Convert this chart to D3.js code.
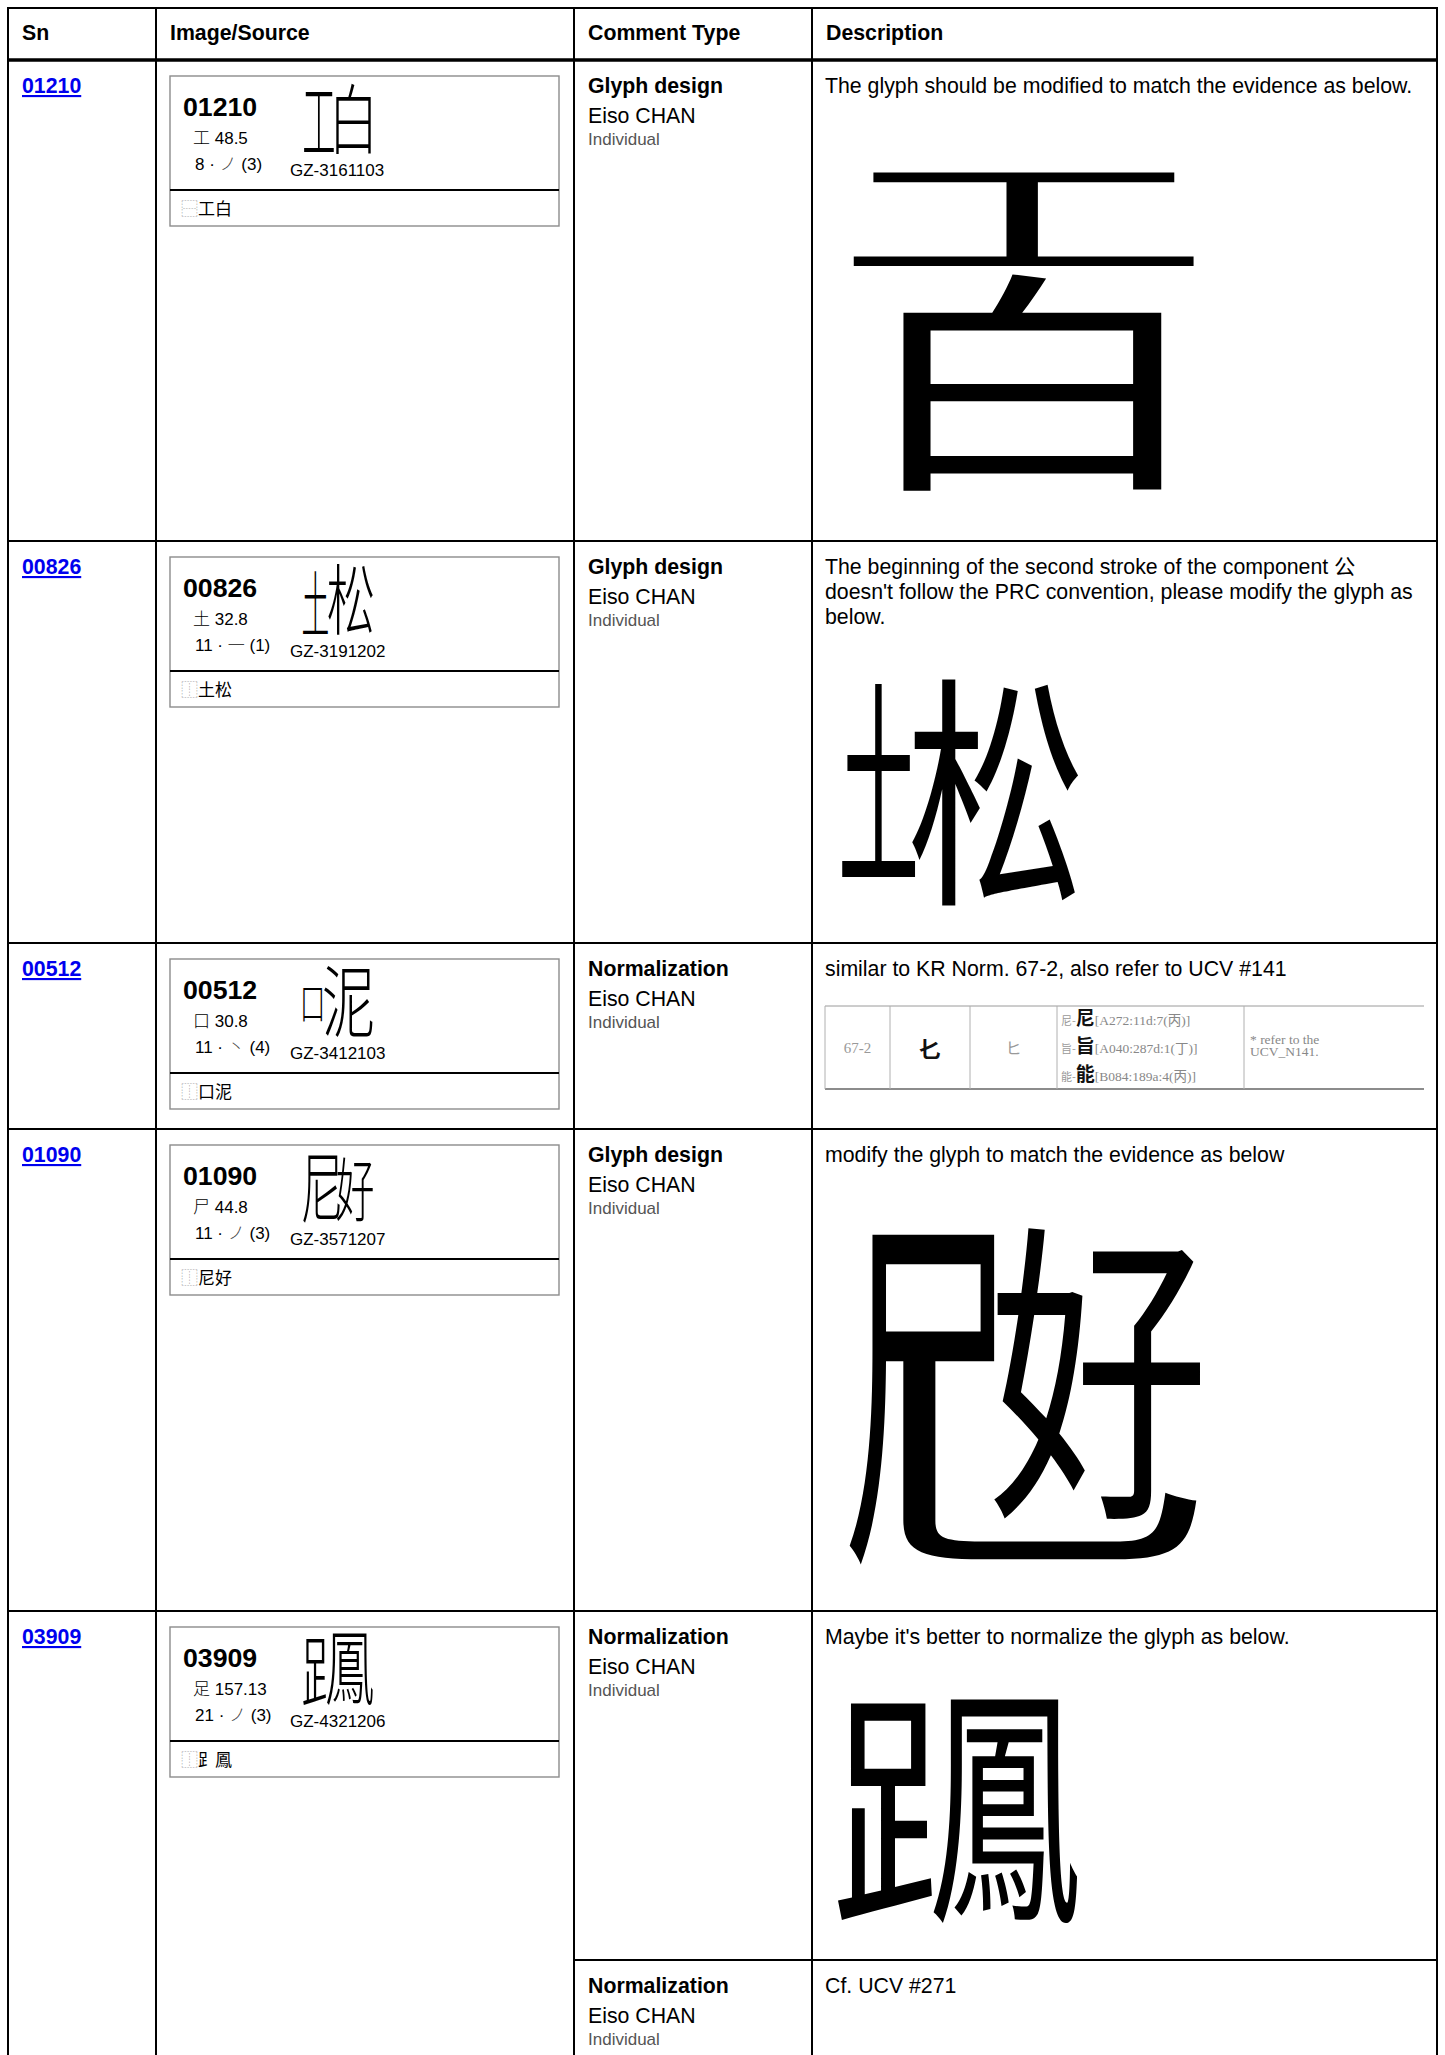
<!DOCTYPE html>
<html><head><meta charset="utf-8">
<script src="https://cdn.jsdelivr.net/npm/d3@7"></script>
<style>html,body{margin:0;padding:0;background:#fff;}svg{display:block;}</style>
</head><body>
<script>
// ---------- data ----------
const headers = ["Sn", "Image/Source", "Comment Type", "Description"];
const sns = ["01210", "00826", "00512", "01090", "03909"];
const radicals = ["工", "土", "口", "尸", "足"];
const radicalNums = ["48.5", "32.8", "30.8", "44.8", "157.13"];
const strokeCounts = ["8", "11", "11", "11", "21"];
const firstStrokes = ["ノ", "一", "丶", "ノ", "ノ"];
const firstStrokeNums = ["(3)", "(1)", "(4)", "(3)", "(3)"];
const sources = ["GZ-3161103", "GZ-3191202", "GZ-3412103", "GZ-3571207", "GZ-4321206"];
const idsOps = ["⿱", "⿰", "⿰", "⿰", "⿰"];
const idsParts = [["工", "白"], ["土", "松"], ["口", "泥"], ["尼", "好"], ["⻊", "鳳"]];

const commentRowOf = [0, 1, 2, 3, 4, 4];
const commentTypes = ["Glyph design", "Glyph design", "Normalization", "Glyph design", "Normalization", "Normalization"];
const commentAuthors = ["Eiso CHAN", "Eiso CHAN", "Eiso CHAN", "Eiso CHAN", "Eiso CHAN", "Eiso CHAN"];
const commentOrgs = ["Individual", "Individual", "Individual", "Individual", "Individual", "Individual"];
const descriptions = [
  ["The glyph should be modified to match the evidence as below."],
  ["The beginning of the second stroke of the component 公", "doesn't follow the PRC convention, please modify the glyph as", "below."],
  ["similar to KR Norm. 67-2, also refer to UCV #141"],
  ["modify the glyph to match the evidence as below"],
  ["Maybe it's better to normalize the glyph as below."],
  ["Cf. UCV #271"]
];
// evidence glyph components (drawn as real text)
const evidenceParts = [["工", "白"], ["土", "松"], [], ["尸", "乚", "好"], ["⻊", "鳳"], []];
// KR normalization excerpt (row 00512)
const krNo = "67-2";
const krForm = "𠤎";
const krComp = "ヒ";
const krPrefix = ["尼-", "旨-", "能-"];
const krChars = ["尼", "旨", "能"];
const krRefs = ["[A272:11d:7(丙)]", "[A040:287d:1(丁)]", "[B084:189a:4(丙)]"];
const krNote = ["* refer to the", "UCV_N141."];

// ---------- layout ----------
const W = 1445, H = 2055;
const LAT = '"Liberation Sans", Arial, "Noto Sans CJK SC", sans-serif';
const CJK = '"Noto Sans CJK SC", sans-serif';
const SER = '"Liberation Serif", "Noto Sans CJK SC", serif';
const tableL = 8, tableR = 1437, tableT = 8, headerB = 60;
const colX = d3.scaleOrdinal().domain(headers).range([8, 156, 574, 812]);
const rowTop = d3.scaleOrdinal().domain(d3.range(5)).range([60, 541, 943, 1129, 1611]);
const commentTop = d3.scaleOrdinal().domain(d3.range(6)).range([60, 541, 943, 1129, 1611, 1960]);
const boxL = 170, boxR = 559;

// small glyph component boxes: [x0, y0(row-rel), x1, y1(row-rel)]
const smallBoxes = [
  [[304, 32, 334, 92], [336, 23, 371, 94]],
  [[303, 30, 328, 92], [328, 23, 373, 94]],
  [[303, 46, 322, 79], [324, 23, 373, 94]],
  [[303, 26, 340, 94], [337, 28, 373, 93]],
  [[303, 28, 326, 94], [327, 23, 373, 94]]
];
// evidence component boxes (absolute)
const evBoxes = [
  [[853, 172, 1197, 267], [902, 273, 1162, 493]],
  [[842, 682, 915, 878], [912, 677, 1079, 908]],
  [],
  [[849, 1232, 995, 1569], [900, 1352, 1200, 1560], [993, 1225, 1200, 1522]],
  [[838, 1702, 933, 1922], [933, 1699, 1078, 1923]],
  []
];

const svg = d3.select("body").append("svg").attr("width", W).attr("height", H);
svg.append("rect").attr("width", W).attr("height", H).attr("fill", "#fff");

const cv = document.createElement("canvas").getContext("2d");
function fitGlyph(g, ch, box, fam, wt) {
  fam = fam || CJK; wt = wt || "normal";
  cv.font = `${wt} 100px ${fam}`;
  const m = cv.measureText(ch);
  const inkL = -m.actualBoundingBoxLeft, inkR = m.actualBoundingBoxRight;
  const inkT = m.actualBoundingBoxAscent, inkB = m.actualBoundingBoxDescent;
  const sx = (box[2] - box[0]) / Math.max(1, inkR - inkL);
  const sy = (box[3] - box[1]) / Math.max(1, inkT + inkB);
  g.append("text")
    .attr("transform", `translate(${box[0] - inkL * sx},${box[1] + inkT * sy}) scale(${sx},${sy})`)
    .attr("font-family", fam).attr("font-weight", wt).attr("font-size", 100)
    .attr("fill", "#000").text(ch);
}

// ---------- header ----------
const head = svg.append("g");
head.selectAll("text").data(headers).join("text")
  .attr("x", d => colX(d) + 14).attr("y", 40)
  .attr("font-family", LAT).attr("font-weight", "bold").attr("font-size", 21.3)
  .attr("fill", "#000").text(d => d);

// ---------- Sn + Image/Source ----------
const rows = svg.append("g").selectAll("g").data(sns).join("g")
  .attr("transform", (d, i) => `translate(0,${rowTop(i)})`);

rows.append("text").attr("x", colX("Sn") + 14).attr("y", 33)
  .attr("font-family", LAT).attr("font-weight", "bold").attr("font-size", 21.3)
  .attr("fill", "#0000ee").attr("text-decoration", "underline").text(d => d);

rows.append("rect").attr("x", boxL).attr("y", 16).attr("width", boxR - boxL).attr("height", 150)
  .attr("fill", "none").attr("stroke", "#8c8c8c").attr("stroke-width", 1.4);
rows.append("line").attr("x1", boxL).attr("x2", boxR).attr("y1", 130).attr("y2", 130)
  .attr("stroke", "#000").attr("stroke-width", 2);

rows.append("text").attr("x", 183).attr("y", 56)
  .attr("font-family", LAT).attr("font-weight", "bold").attr("font-size", 26.7).text(d => d);

const radT = rows.append("text").attr("x", 193).attr("y", 84)
  .attr("font-family", LAT).attr("font-size", 17);
radT.append("tspan").attr("font-family", CJK).attr("font-weight", 300).text((d, i) => radicals[i]);
radT.append("tspan").text((d, i) => " " + radicalNums[i]);

const stT = rows.append("text").attr("x", 195).attr("y", 110)
  .attr("font-family", LAT).attr("font-size", 17);
stT.append("tspan").text((d, i) => strokeCounts[i] + " · ");
stT.append("tspan").attr("font-family", CJK).attr("font-weight", 300).attr("fill", "#444").text((d, i) => firstStrokes[i]);
stT.append("tspan").text((d, i) => " " + firstStrokeNums[i]);

rows.append("text").attr("x", 290).attr("y", 116)
  .attr("font-family", LAT).attr("font-size", 17).text((d, i) => sources[i]);

const idsT = rows.append("text").attr("x", 181).attr("y", 155)
  .attr("font-family", CJK).attr("font-size", 17);
idsT.append("tspan").attr("fill", "#999").text((d, i) => idsOps[i]);
idsT.append("tspan").attr("fill", "#000").text((d, i) => idsParts[i].join(""));

rows.each(function (d, i) {
  const g = d3.select(this);
  idsParts[i].forEach((ch, k) => fitGlyph(g, ch, smallBoxes[i][k], CJK, 300));
});

// ---------- comments ----------
const cm = svg.append("g").selectAll("g").data(commentTypes).join("g")
  .attr("transform", (d, i) => `translate(0,${commentTop(i)})`);
cm.append("text").attr("x", colX("Comment Type") + 14).attr("y", 33)
  .attr("font-family", LAT).attr("font-weight", "bold").attr("font-size", 21.3).text(d => d);
cm.append("text").attr("x", colX("Comment Type") + 14).attr("y", 63)
  .attr("font-family", LAT).attr("font-size", 21.3).text((d, i) => commentAuthors[i]);
cm.append("text").attr("x", colX("Comment Type") + 14).attr("y", 85)
  .attr("font-family", LAT).attr("font-size", 17).attr("fill", "#555").text((d, i) => commentOrgs[i]);
cm.append("text").attr("x", colX("Description") + 13).attr("y", 33)
  .attr("font-family", LAT).attr("font-size", 21.3)
  .selectAll("tspan").data((d, i) => descriptions[i]).join("tspan")
  .attr("x", colX("Description") + 13).attr("dy", (d, j) => j ? 25 : 0).text(d => d);

// evidence glyphs
const ev = svg.append("g");
evidenceParts.forEach((parts, i) => parts.forEach((ch, k) => fitGlyph(ev, ch, evBoxes[i][k], CJK, "normal")));

// KR normalization excerpt
const kr = svg.append("g");
const krX = [825, 890, 970, 1057, 1244, 1424], krT = 1006, krB = 1089;
kr.append("line").attr("x1", krX[0]).attr("x2", krX[5]).attr("y1", krT).attr("y2", krT).attr("stroke", "#9a9a9a").attr("stroke-width", 1);
kr.append("line").attr("x1", krX[0]).attr("x2", krX[5]).attr("y1", krB).attr("y2", krB).attr("stroke", "#666").attr("stroke-width", 1.5);
kr.selectAll("line.v").data(krX.slice(0, 5)).join("line").attr("class", "v")
  .attr("x1", d => d).attr("x2", d => d).attr("y1", krT).attr("y2", krB).attr("stroke", "#b0b0b0").attr("stroke-width", 1);
const mid = (a, b) => (a + b) / 2;
kr.append("text").attr("x", mid(krX[0], krX[1])).attr("y", 1053).attr("text-anchor", "middle")
  .attr("font-family", SER).attr("font-size", 15).attr("fill", "#999").text(krNo);
kr.append("text").attr("x", mid(krX[1], krX[2])).attr("y", 1057).attr("text-anchor", "middle")
  .attr("font-family", CJK).attr("font-weight", "bold").attr("font-size", 22).attr("fill", "#111").text(krForm);
kr.append("text").attr("x", mid(krX[2], krX[3])).attr("y", 1054).attr("text-anchor", "middle")
  .attr("font-family", CJK).attr("font-size", 16).attr("fill", "#999").text(krComp);
const krL = kr.selectAll("text.l").data(krChars).join("text").attr("class", "l")
  .attr("x", krX[3] + 4).attr("y", (d, i) => 1025 + i * 28);
krL.append("tspan").attr("font-family", CJK).attr("font-size", 11).attr("fill", "#999").text((d, i) => krPrefix[i]);
krL.append("tspan").attr("font-family", CJK).attr("font-weight", "bold").attr("font-size", 19).attr("fill", "#111").text(d => d);
krL.append("tspan").attr("font-family", SER).attr("font-size", 13.5).attr("fill", "#888").text((d, i) => krRefs[i]);
kr.selectAll("text.n").data(krNote).join("text").attr("class", "n")
  .attr("x", krX[4] + 6).attr("y", (d, i) => 1044 + i * 12)
  .attr("font-family", SER).attr("font-size", 13.5).attr("fill", "#888").text(d => d);

// ---------- grid lines ----------
const grid = svg.append("g").attr("stroke", "#000");
grid.selectAll("line.c").data(headers).join("line").attr("class", "c")
  .attr("x1", d => colX(d)).attr("x2", d => colX(d)).attr("y1", tableT).attr("y2", H).attr("stroke-width", 2);
grid.append("line").attr("x1", tableR).attr("x2", tableR).attr("y1", tableT).attr("y2", H).attr("stroke-width", 2);
grid.append("line").attr("x1", tableL - 1).attr("x2", tableR + 1).attr("y1", tableT).attr("y2", tableT).attr("stroke-width", 2);
grid.append("line").attr("x1", tableL).attr("x2", tableR).attr("y1", headerB).attr("y2", headerB).attr("stroke-width", 3.5);
grid.selectAll("line.r").data(d3.range(1, 5)).join("line").attr("class", "r")
  .attr("x1", tableL).attr("x2", tableR).attr("y1", d => rowTop(d)).attr("y2", d => rowTop(d)).attr("stroke-width", 2);
grid.append("line").attr("x1", colX("Comment Type")).attr("x2", tableR)
  .attr("y1", commentTop(5)).attr("y2", commentTop(5)).attr("stroke-width", 2);
</script>
</body></html>
